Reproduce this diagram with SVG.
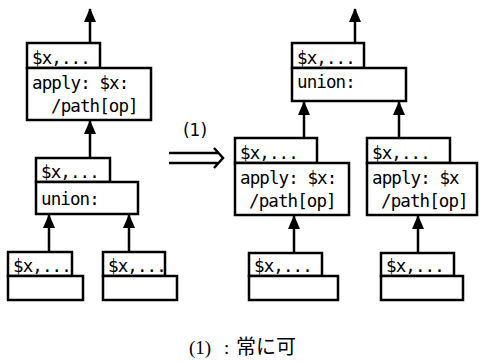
<svg xmlns="http://www.w3.org/2000/svg" width="480" height="362" viewBox="0 0 480 362">
<style>
rect{fill:#fff;stroke:#000;stroke-width:2.5}
.t{font-family:"DejaVu Sans Mono","Liberation Mono",monospace;font-size:17.5px;letter-spacing:-0.9px;fill:#000}
.c line{stroke:#000;stroke-width:2.5}
.lbl{font-family:"DejaVu Sans","Noto Sans CJK JP",sans-serif;font-size:17px;fill:#000}
.cap{font-family:"Liberation Serif","Noto Sans CJK JP",serif;font-size:19px;fill:#000}
.cj{font-family:"Noto Sans CJK JP",sans-serif;font-size:20px}
</style>
<defs>
<marker id="ah" viewBox="0 0 14 12" refX="13" refY="6" markerWidth="14" markerHeight="12" markerUnits="userSpaceOnUse" orient="auto">
<path d="M0,0 L14,6 L0,12 Z" fill="#000"/>
</marker>
</defs>
<g class="c" id="connectors">
<line x1="90" y1="43" x2="90" y2="9" marker-end="url(#ah)"/>
<line x1="90" y1="158" x2="90" y2="121" marker-end="url(#ah)"/>
<line x1="49" y1="252" x2="49" y2="215" marker-end="url(#ah)"/>
<line x1="129" y1="252" x2="129" y2="215" marker-end="url(#ah)"/>
<line x1="355" y1="43" x2="355" y2="9" marker-end="url(#ah)"/>
<line x1="304" y1="138" x2="304" y2="102" marker-end="url(#ah)"/>
<line x1="399" y1="138" x2="399" y2="102" marker-end="url(#ah)"/>
<line x1="294" y1="253" x2="294" y2="216" marker-end="url(#ah)"/>
<line x1="418" y1="253" x2="418" y2="216" marker-end="url(#ah)"/>
<path d="M169,153 H219 M169,163 H219 M214,148 L223,158 L214,168" fill="none" stroke="#000" stroke-width="2.5"/>
</g>
<g id="L1">
<rect x="27" y="43" width="73" height="25"/>
<rect x="27" y="68" width="124" height="52"/>
<text class="t" x="32" y="64">$x,...</text>
<text class="t" x="32" y="89">apply: $x:</text>
<text class="t" x="51" y="112">/path[op]</text>
</g>
<g id="L2">
<rect x="36" y="158" width="74" height="24"/>
<rect x="36" y="182" width="102" height="32"/>
<text class="t" x="41" y="178">$x,...</text>
<text class="t" x="41" y="205">union:</text>
</g>
<g id="L3">
<rect x="8" y="252" width="64" height="24"/>
<rect x="8" y="276" width="75" height="24"/>
<text class="t" x="13" y="272">$x,...</text>
</g>
<g id="L4">
<rect x="103" y="252" width="62" height="24"/>
<rect x="103" y="276" width="74" height="24"/>
<text class="t" x="108" y="272">$x,...</text>
</g>
<g id="R1">
<rect x="292" y="43" width="72" height="25"/>
<rect x="292" y="68" width="114" height="33"/>
<text class="t" x="297" y="64">$x,...</text>
<text class="t" x="297" y="88">union:</text>
</g>
<g id="R2">
<rect x="235" y="138" width="82" height="25"/>
<rect x="235" y="163" width="114" height="52"/>
<text class="t" x="240" y="159">$x,...</text>
<text class="t" x="240" y="184">apply: $x:</text>
<text class="t" x="249" y="207">/path[op]</text>
</g>
<g id="R3">
<rect x="367" y="138" width="83" height="25"/>
<rect x="367" y="163" width="110" height="52"/>
<text class="t" x="372" y="159">$x,...</text>
<text class="t" x="372" y="184">apply: $x</text>
<text class="t" x="381" y="207">/path[op]</text>
</g>
<g id="R4">
<rect x="249" y="253" width="73" height="23"/>
<rect x="249" y="276" width="89" height="24"/>
<text class="t" x="254" y="272">$x,...</text>
</g>
<g id="R5">
<rect x="381" y="253" width="73" height="23"/>
<rect x="381" y="276" width="82" height="24"/>
<text class="t" x="386" y="272">$x,...</text>
</g>
<text class="lbl" x="195" y="136" text-anchor="middle">(1)</text>
<text class="cap" y="354"><tspan x="189">(1)</tspan><tspan x="224">:</tspan><tspan class="cj" x="236">常に可</tspan></text>
</svg>
